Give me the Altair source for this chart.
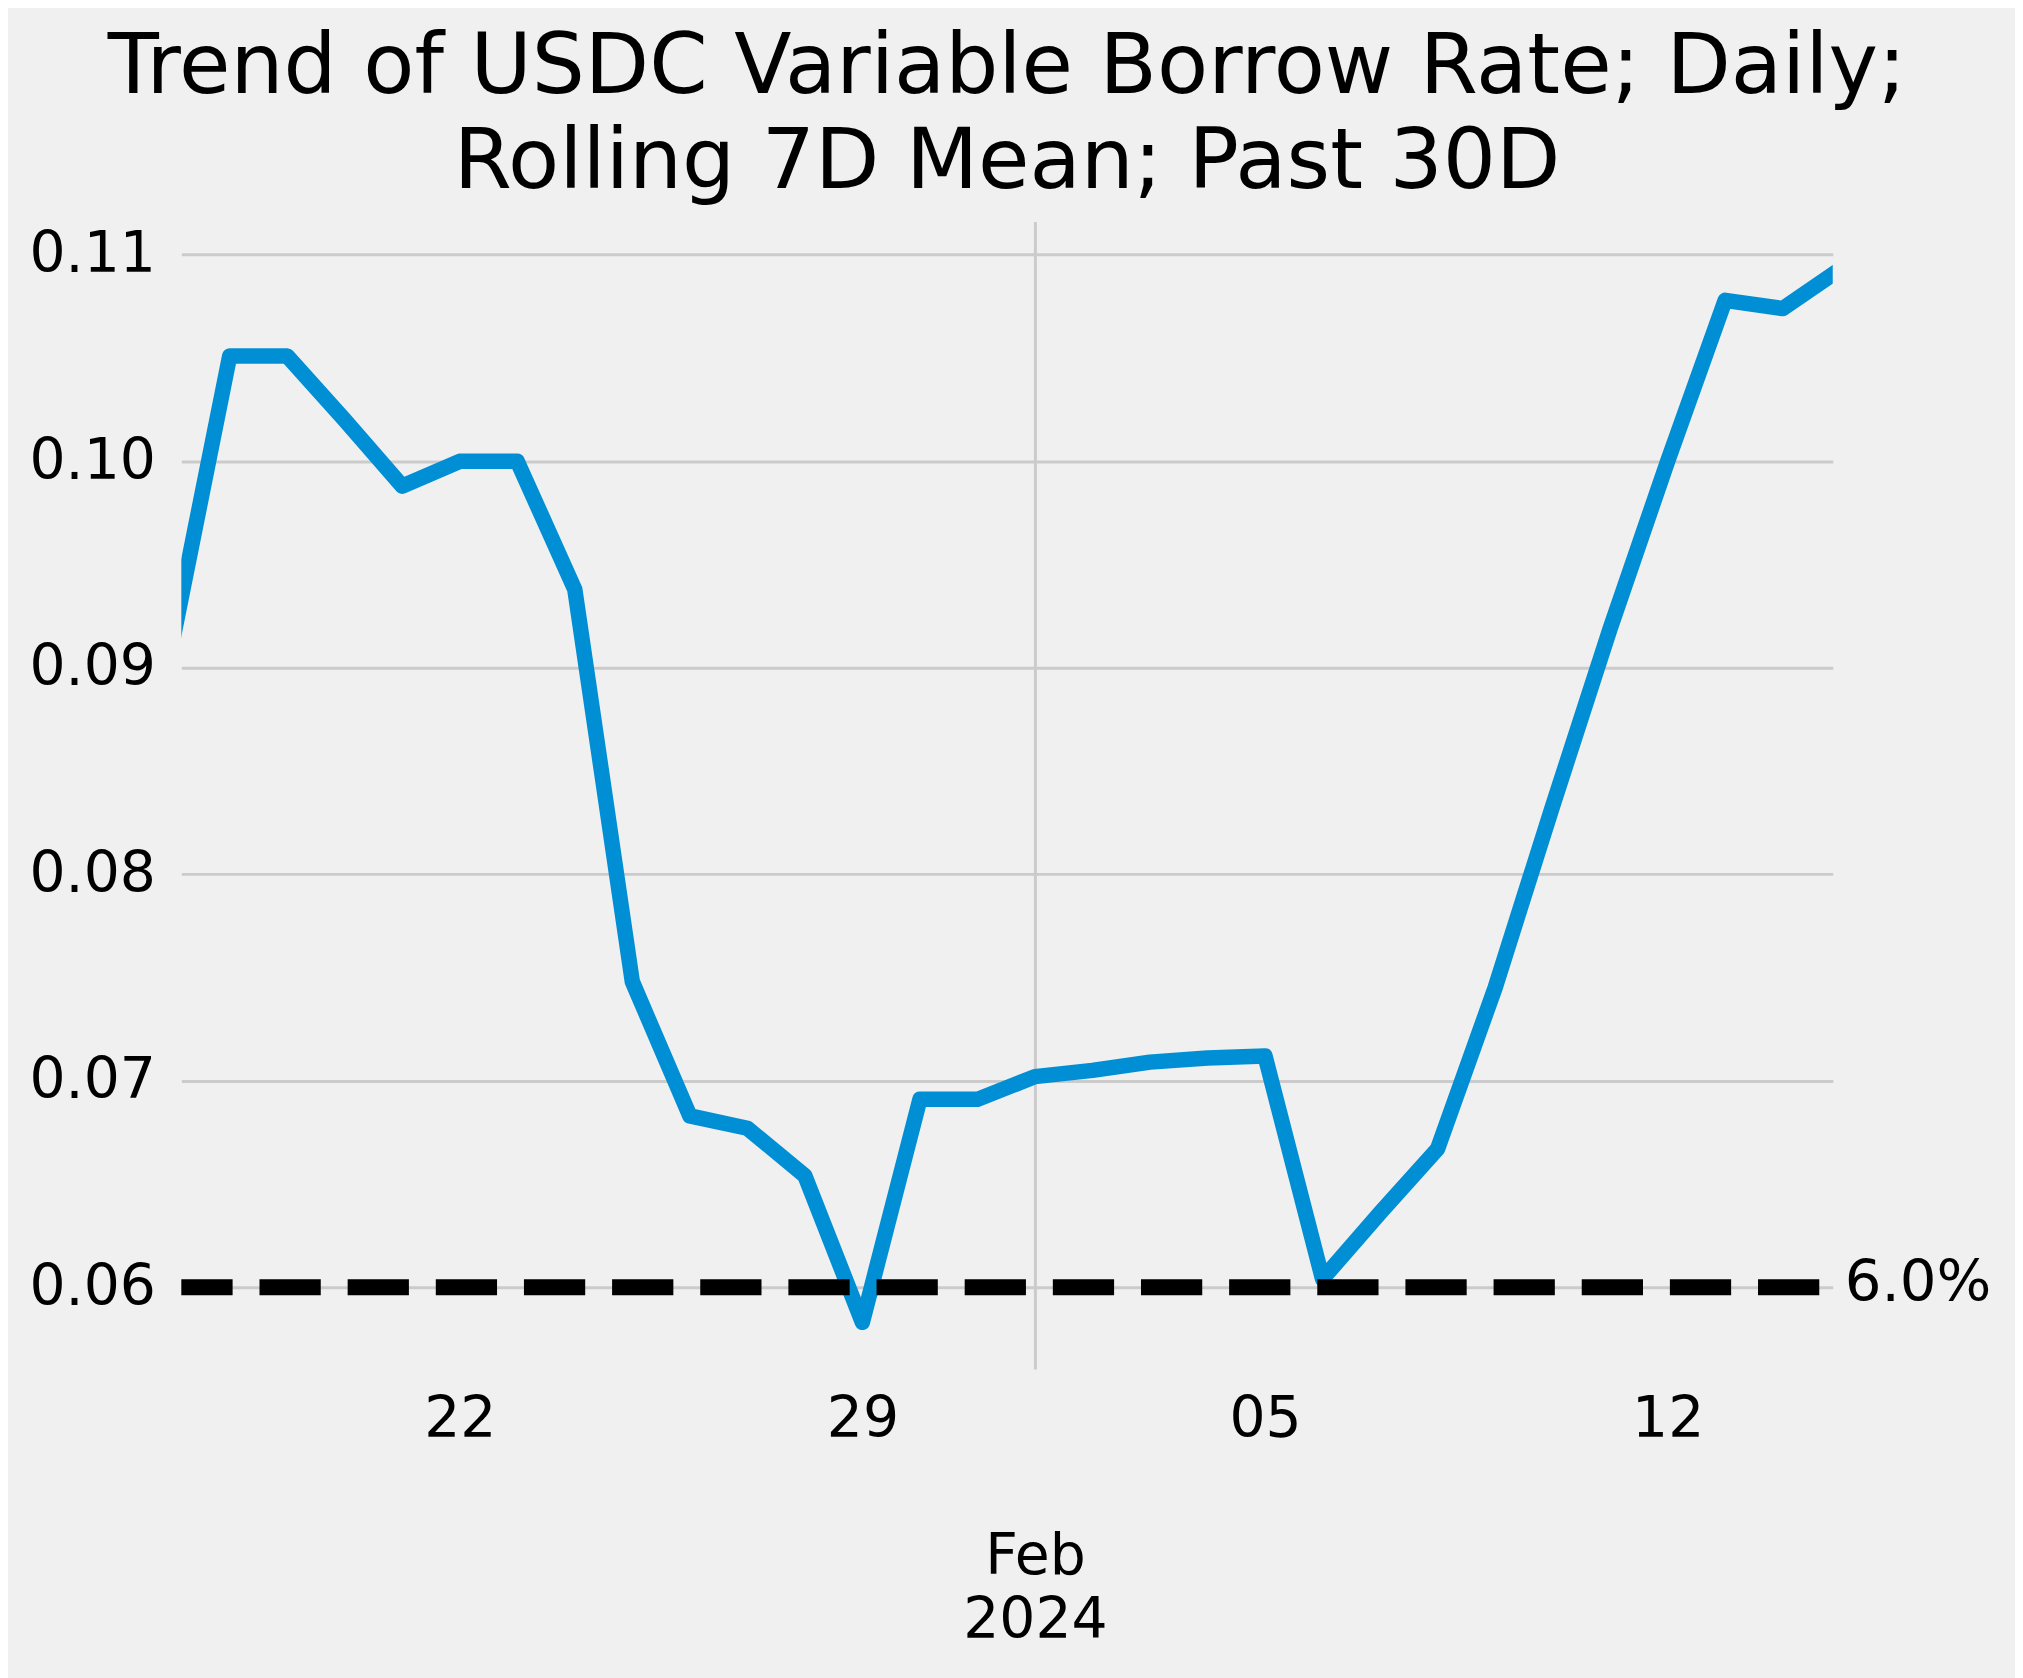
import altair as alt
import pandas as pd

# ---- data ----
dates = [
    "2024-01-17", "2024-01-18", "2024-01-19", "2024-01-20", "2024-01-21",
    "2024-01-22", "2024-01-23", "2024-01-24", "2024-01-25", "2024-01-26",
    "2024-01-27", "2024-01-28", "2024-01-29", "2024-01-30", "2024-01-31",
    "2024-02-01", "2024-02-02", "2024-02-03", "2024-02-04", "2024-02-05",
    "2024-02-06", "2024-02-07", "2024-02-08", "2024-02-09", "2024-02-10",
    "2024-02-11", "2024-02-12", "2024-02-13", "2024-02-14", "2024-02-15",
]
rates = [
    0.0912, 0.1051, 0.1051, 0.1020, 0.0988,
    0.1000, 0.1000, 0.0938, 0.0748, 0.0683,
    0.0677, 0.0654, 0.0583, 0.0691, 0.0691,
    0.0702, 0.0705, 0.0709, 0.0711, 0.0712,
    0.0604, 0.0636, 0.0667, 0.0745, 0.0833,
    0.0919, 0.1000, 0.1078, 0.1074, 0.1093,
]
threshold = [0.06]
x_tick_dates = ["2024-01-22", "2024-01-29", "2024-02-01", "2024-02-05", "2024-02-12"]
y_ticks = [0.06, 0.07, 0.08, 0.09, 0.10, 0.11]
title_lines = ["Trend of USDC Variable Borrow Rate; Daily;", "Rolling 7D Mean; Past 30D"]

x_domain = [
    alt.DateTime(year=2024, month=1, date=17, hours=3, minutes=49, utc=True),
    alt.DateTime(year=2024, month=2, date=14, hours=20, minutes=53, utc=True),
]
y_domain = [0.056044, 0.111616]

PLOT_W = 1658
PLOT_H = 1152
FONT = "DejaVu Sans"
BLUE = "#008fd5"
BG = "#f0f0f0"
GRID = "#cbcbcb"

df = pd.DataFrame({"date": dates, "rate": rates})
th = pd.DataFrame({"threshold": threshold})

tick_values = []
for d in x_tick_dates:
    ts = pd.Timestamp(d)
    tick_values.append(alt.DateTime(year=ts.year, month=ts.month, date=ts.day, utc=True))

is_month = "utcdate(datum.value) == 1"

x_axis = alt.Axis(
    values=tick_values,
    labelExpr=f"{is_month} ? [utcFormat(datum.value, '%b'), utcFormat(datum.value, '%Y')] : utcFormat(datum.value, '%d')",
    labelFont=FONT,
    labelFontSize=57,
    labelColor="black",
    labelLineHeight=65,
    labelPadding={"condition": {"test": is_month, "value": 160}, "value": 23},
    labelFlush=False,
    labelOverlap=False,
    ticks=False,
    domain=False,
    grid=True,
    gridColor=GRID,
    gridWidth=3,
    gridOpacity={"condition": {"test": is_month, "value": 1}, "value": 0},
    title=None,
)

y_axis = alt.Axis(
    values=y_ticks,
    format=".2f",
    labelFont=FONT,
    labelFontSize=57,
    labelColor="black",
    labelPadding=26,
    ticks=False,
    domain=False,
    grid=True,
    gridColor=GRID,
    gridWidth=3,
    title=None,
)

x_enc = alt.X("date:T", scale=alt.Scale(type="utc", domain=x_domain), axis=x_axis)
y_enc = alt.Y("rate:Q", scale=alt.Scale(domain=y_domain, nice=False, zero=False), axis=y_axis)

line = alt.Chart(df).mark_line(
    color=BLUE, strokeWidth=15.5, clip=True, strokeJoin="round", strokeCap="butt"
).encode(x=x_enc, y=y_enc)

rule = alt.Chart(th).mark_rule(
    color="black", strokeWidth=16, strokeDash=[61.5, 27], strokeDashOffset=75
).encode(y=alt.Y("threshold:Q"))

label = alt.Chart(th).mark_text(
    align="left", baseline="middle", font=FONT, fontSize=58, color="black", dx=12, dy=-3
).encode(
    x=alt.value(PLOT_W),
    y=alt.Y("threshold:Q"),
    text=alt.Text("threshold:Q", format=".1%"),
)

chart = alt.layer(line, rule, label).properties(
    width=PLOT_W,
    height=PLOT_H,
    title=alt.Title(
        title_lines,
        font=FONT,
        fontSize=84,
        fontWeight="normal",
        color="black",
        lineHeight=95,
        anchor="middle",
        offset=16,
    ),
    autosize=alt.AutoSizeParams(type="none"),
    padding={"left": 174, "top": 211, "right": 183, "bottom": 307},
    background=BG,
).configure_view(stroke=None, fill=BG)

chart.save("out.html", embed_options={"renderer": "svg", "actions": False})
